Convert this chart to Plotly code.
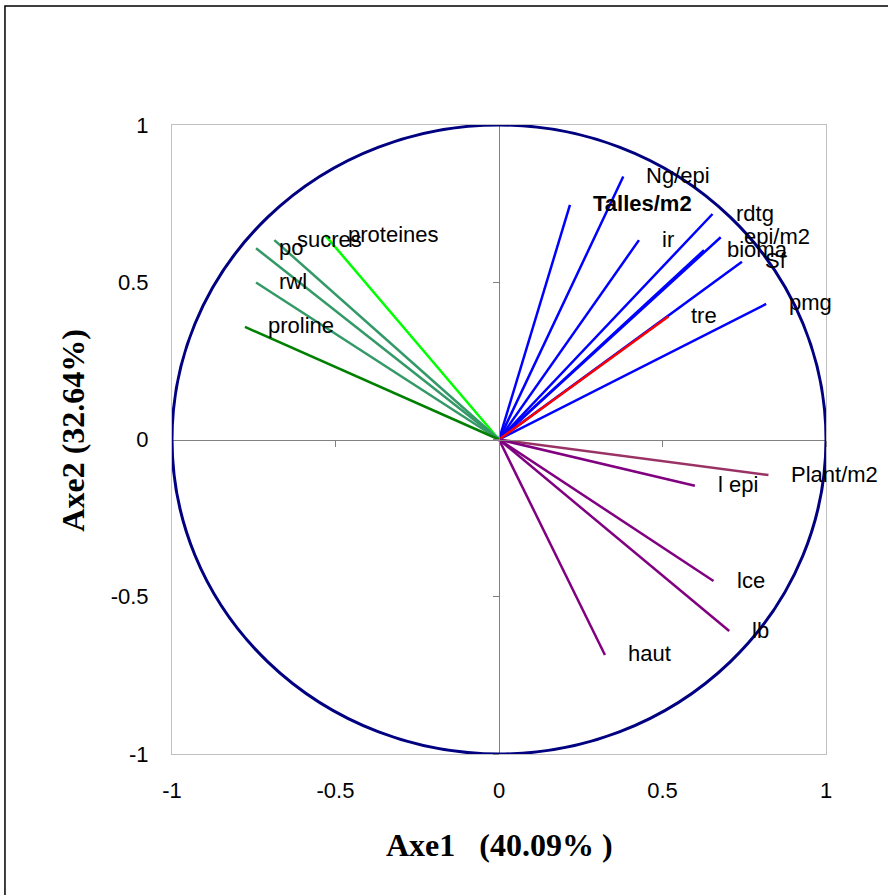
import plotly.graph_objects as go

# ---- data (correlation circle, Axe1 / Axe2) ----
blue_names = ["Talles/m2", "Ng/epi", "ir", "rdtg", "epi/m2", "bioma", "Sf", "pmg"]
blue_x = [0.217, 0.380, 0.428, 0.653, 0.678, 0.627, 0.743, 0.817]
blue_y = [0.746, 0.836, 0.634, 0.717, 0.643, 0.602, 0.565, 0.431]

red_names = ["tre"]
red_x = [0.518]
red_y = [0.391]

lime_names = ["proteines"]
lime_x = [-0.532]
lime_y = [0.650]

teal_names = ["sucres", "po", "rwl"]
teal_x = [-0.687, -0.743, -0.743]
teal_y = [0.634, 0.608, 0.499]

green_names = ["proline"]
green_x = [-0.777]
green_y = [0.358]

plum_names = ["Plant/m2"]
plum_x = [0.824]
plum_y = [-0.113]

purple_names = ["l epi", "lce", "lb", "haut"]
purple_x = [0.599, 0.656, 0.704, 0.324]
purple_y = [-0.147, -0.450, -0.609, -0.685]

tick_vals = [-1, -0.5, 0, 0.5, 1]
tick_text = ["-1", "-0.5", "0", "0.5", "1"]

x_title = "Axe1\u00a0\u00a0\u00a0(40.09%\u00a0)"
y_title = "Axe2 (32.64%)"

groups = [
    (blue_names, blue_x, blue_y, "#0000FF"),
    (red_names, red_x, red_y, "#FF0000"),
    (lime_names, lime_x, lime_y, "#00FF00"),
    (teal_names, teal_x, teal_y, "#339966"),
    (green_names, green_x, green_y, "#008000"),
    (plum_names, plum_x, plum_y, "#993366"),
    (purple_names, purple_x, purple_y, "#800080"),
]

fig = go.Figure()
annotations = []
LABEL_FONT = dict(family="Liberation Sans, Arial, sans-serif", size=22, color="black")

for names, xs, ys, color in groups:
    for n, x, y in zip(names, xs, ys):
        fig.add_trace(go.Scatter(x=[0, x], y=[0, y], mode="lines",
                                 line=dict(color=color, width=2.5),
                                 hoverinfo="skip", showlegend=False))
        txt = "<b>%s</b>" % n if n == "Talles/m2" else n
        annotations.append(dict(x=x, y=y, xref="x", yref="y", text=txt,
                                showarrow=False, xanchor="left", yanchor="middle",
                                xshift=21, yshift=1, font=LABEL_FONT))

# dummy trace on the crossing axes so they are rendered
fig.add_trace(go.Scatter(x=[None], y=[None], xaxis="x2", yaxis="y2",
                         mode="lines", showlegend=False, hoverinfo="skip"))

annotations.append(dict(x=0.5015, y=-0.144, xref="paper", yref="paper", text="<b>%s</b>" % x_title,
                        showarrow=False, xanchor="center", yanchor="middle",
                        font=dict(family="Liberation Serif, Times New Roman, serif", size=32, color="black")))
annotations.append(dict(x=-0.152, y=0.515, xref="paper", yref="paper", text="<b>%s</b>" % y_title,
                        showarrow=False, xanchor="center", yanchor="middle", textangle=-90,
                        font=dict(family="Liberation Serif, Times New Roman, serif", size=32, color="black")))

tickfont = dict(family="Liberation Sans, Arial, sans-serif", size=22, color="black")

fig.update_layout(
    width=888, height=895,
    margin=dict(l=172, r=62, t=125, b=141),
    paper_bgcolor="white", plot_bgcolor="white",
    showlegend=False,
    xaxis=dict(range=[-1, 1], tickvals=tick_vals, ticktext=tick_text, showgrid=False,
               zeroline=False, showline=True, mirror=True, linecolor="#C0C0C0", linewidth=1,
               ticks="", tickfont=tickfont, ticklabelstandoff=17, fixedrange=True),
    yaxis=dict(range=[-1, 1], tickvals=tick_vals, ticktext=tick_text, showgrid=False,
               zeroline=False, showline=True, mirror=True, linecolor="#C0C0C0", linewidth=1,
               ticks="", tickfont=tickfont, ticklabelstandoff=18, fixedrange=True),
    xaxis2=dict(range=[-1, 1], overlaying="x", anchor="free", position=0.5, side="bottom",
                tickvals=tick_vals, showticklabels=False, ticks="outside", ticklen=6,
                tickcolor="#808080", showline=True, linecolor="#808080", linewidth=1,
                showgrid=False, zeroline=False, fixedrange=True),
    yaxis2=dict(range=[-1, 1], overlaying="y", anchor="free", position=0.5, side="left",
                tickvals=tick_vals, showticklabels=False, ticks="outside", ticklen=6,
                tickcolor="#808080", showline=True, linecolor="#808080", linewidth=1,
                showgrid=False, zeroline=False, fixedrange=True),
    annotations=annotations,
    shapes=[
        dict(type="circle", xref="x", yref="y", x0=-1, y0=-1, x1=1, y1=1,
             line=dict(color="#000080", width=3), layer="above"),
        dict(type="rect", xref="paper", yref="paper", x0=-0.2554, y0=-0.24, x1=1.11, y1=1.189,
             line=dict(color="black", width=1.5), fillcolor="rgba(0,0,0,0)", layer="below"),
    ],
)

fig.write_html("out.html", config={"displayModeBar": False},
               post_script="document.body.style.margin='0px';document.body.style.overflow='hidden';")
